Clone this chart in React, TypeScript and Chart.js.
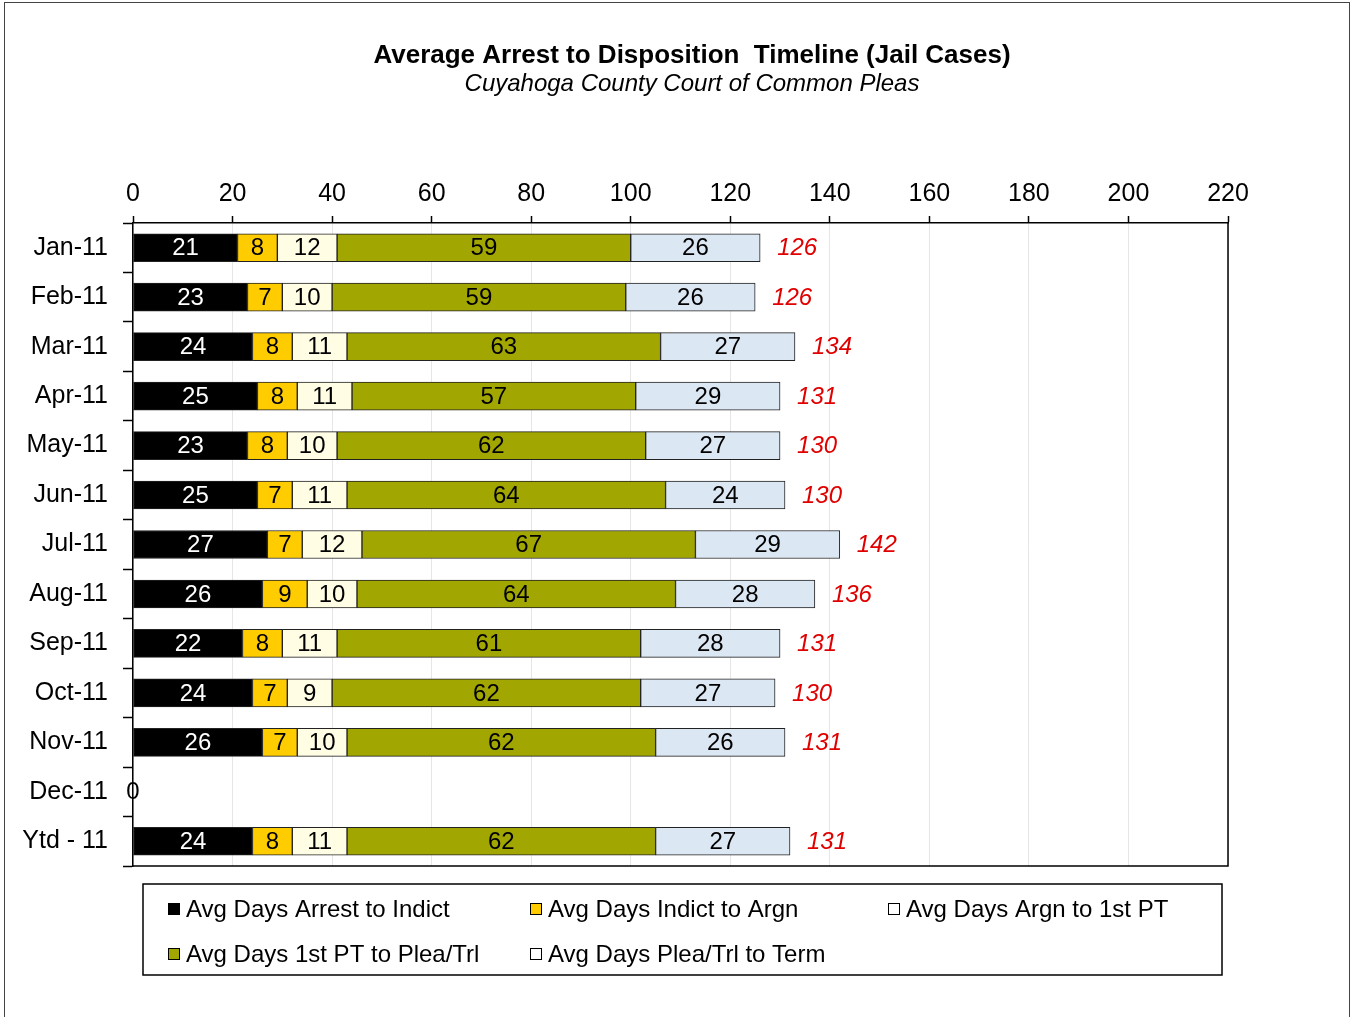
import React, { useEffect, useRef } from "react";
import { Chart, registerables } from "chart.js";

Chart.register(...registerables);

const categories = ["Jan-11", "Feb-11", "Mar-11", "Apr-11", "May-11", "Jun-11", "Jul-11", "Aug-11", "Sep-11", "Oct-11", "Nov-11", "Dec-11", "Ytd - 11"];
const arrestToIndict = [21, 23, 24, 25, 23, 25, 27, 26, 22, 24, 26, 0, 24];
const indictToArgn = [8, 7, 8, 8, 8, 7, 7, 9, 8, 7, 7, 0, 8];
const argnToFirstPT = [12, 10, 11, 11, 10, 11, 12, 10, 11, 9, 10, 0, 11];
const firstPTToPlea = [59, 59, 63, 57, 62, 64, 67, 64, 61, 62, 62, 0, 62];
const pleaToTerm = [26, 26, 27, 29, 27, 24, 29, 28, 28, 27, 26, 0, 27];
const totals = [126, 126, 134, 131, 130, 130, 142, 136, 131, 130, 131, 0, 131];
const xTicks = [0, 20, 40, 60, 80, 100, 120, 140, 160, 180, 200, 220];

const seriesNames = [
  "Avg Days Arrest to Indict",
  "Avg Days Indict to Argn",
  "Avg Days Argn to 1st PT",
  "Avg Days 1st PT to Plea/Trl",
  "Avg Days Plea/Trl to Term",
];
const seriesColors = ["#000000", "#FFCC00", "#FFFDE4", "#A2A600", "#DCE7F4"];
const legendColors = ["#000000", "#FFCC00", "#FFFFFF", "#A2A600", "#FFFFFF"];
const labelColors = ["#FFFFFF", "#000000", "#000000", "#000000", "#000000"];

const FONT = "'Liberation Sans', Arial, sans-serif";

const textPlugin = {
  id: "textPlugin",
  afterDatasetsDraw(chart: any) {
    const ctx = chart.ctx;
    const area = chart.chartArea;
    const xs = chart.scales.x;
    ctx.save();
    // plot border (right and bottom)
    ctx.strokeStyle = "#000";
    ctx.lineWidth = 1.5;
    ctx.beginPath();
    ctx.moveTo(area.left, area.bottom);
    ctx.lineTo(area.right, area.bottom);
    ctx.lineTo(area.right, area.top);
    ctx.stroke();

    // segment labels
    ctx.font = `24px ${FONT}`;
    ctx.textAlign = "center";
    ctx.textBaseline = "middle";
    chart.data.datasets.forEach((ds: any, i: number) => {
      const meta = chart.getDatasetMeta(i);
      meta.data.forEach((bar: any, j: number) => {
        const v = ds.data[j];
        if (!v) return;
        ctx.fillStyle = labelColors[i];
        ctx.fillText(String(v), (bar.x + bar.base) / 2, bar.y + 1);
      });
    });

    // totals
    const lastMeta = chart.getDatasetMeta(chart.data.datasets.length - 1);
    lastMeta.data.forEach((bar: any, j: number) => {
      const t = totals[j];
      if (t === 0) {
        ctx.font = `24px ${FONT}`;
        ctx.fillStyle = "#000";
        ctx.textAlign = "center";
        ctx.fillText("0", xs.getPixelForValue(0), bar.y + 1);
      } else {
        ctx.font = `italic 24px ${FONT}`;
        ctx.fillStyle = "#E00000";
        ctx.textAlign = "left";
        ctx.fillText(String(t), bar.x + 17, bar.y + 1);
      }
    });
    ctx.restore();
  },
  afterDraw(chart: any) {
    const ctx = chart.ctx;
    const area = chart.chartArea;
    ctx.save();
    // titles
    const cx = chart.width / 2 + 15;
    ctx.textAlign = "center";
    ctx.textBaseline = "middle";
    ctx.fillStyle = "#000";
    ctx.font = `bold 26px ${FONT}`;
    ctx.fillText("Average Arrest to Disposition  Timeline (Jail Cases)", cx, 56);
    ctx.font = `italic 24px ${FONT}`;
    ctx.fillText("Cuyahoga County Court of Common Pleas", cx, 84);

    // legend
    const left = area.left + 10;
    const right = area.right - 6;
    const top = area.bottom + 18;
    const bottom = top + 91;
    ctx.strokeStyle = "#000";
    ctx.lineWidth = 1.5;
    ctx.strokeRect(left, top, right - left, bottom - top);
    const cols = [25, 387, 745];
    const rows = [25, 70];
    ctx.font = `24px ${FONT}`;
    ctx.textAlign = "left";
    seriesNames.forEach((name, i) => {
      const col = cols[i % 3];
      const row = rows[Math.floor(i / 3)];
      const x = left + col;
      const y = top + row;
      ctx.fillStyle = legendColors[i];
      ctx.fillRect(x, y - 6, 12, 12);
      ctx.strokeStyle = "#000";
      ctx.lineWidth = 1;
      ctx.strokeRect(x + 0.5, y - 5.5, 11, 11);
      ctx.fillStyle = "#000";
      ctx.fillText(name, x + 18, y + 1);
    });
    ctx.restore();
  },
};

export default function App() {
  const canvasRef = useRef<HTMLCanvasElement | null>(null);

  useEffect(() => {
    if (!canvasRef.current) return;
    const data = [arrestToIndict, indictToArgn, argnToFirstPT, firstPTToPlea, pleaToTerm];
    const chart = new Chart(canvasRef.current, {
      type: "bar",
      data: {
        labels: categories,
        datasets: data.map((d, i) => ({
          label: seriesNames[i],
          data: d,
          backgroundColor: seriesColors[i],
          borderColor: "#222",
          borderWidth: 1,
          borderSkipped: false,
          barThickness: 28,
        })),
      },
      options: {
        indexAxis: "y",
        animation: false,
        responsive: true,
        maintainAspectRatio: false,
        layout: { padding: { top: 180, left: 0, right: 126, bottom: 151 } },
        plugins: {
          legend: { display: false },
          title: { display: false },
          tooltip: { enabled: false },
        },
        scales: {
          x: {
            position: "top",
            stacked: true,
            min: 0,
            max: 220,
            afterBuildTicks(scale: any) {
              scale.ticks = xTicks.map((v) => ({ value: v }));
            },
            afterFit(scale: any) {
              scale.height = 43;
            },
            ticks: {
              color: "#000",
              font: { size: 25, family: FONT },
              padding: 7,
            },
            grid: {
              color: "#E6E6E6",
              tickColor: "#000",
              tickLength: 7,
              lineWidth: 1,
              tickWidth: 1.5,
            },
            border: { display: true, color: "#000", width: 1.5 },
          },
          y: {
            stacked: true,
            afterFit(scale: any) {
              scale.width = 133;
            },
            ticks: {
              color: "#000",
              font: { size: 25, family: FONT },
              padding: 15,
            },
            grid: {
              drawOnChartArea: false,
              offset: true,
              tickColor: "#000",
              tickLength: 10,
              tickWidth: 1.5,
            },
            border: { display: true, color: "#000", width: 1.5 },
          },
        },
      },
      plugins: [textPlugin],
    });
    return () => chart.destroy();
  }, []);

  return (
    <div style={{ position: "fixed", left: 0, top: 0, width: 1354, height: 1017, background: "#fff" }}>
      <div
        style={{
          position: "absolute",
          left: 4,
          top: 2,
          width: 1346,
          height: 1030,
          border: "1.5px solid #444",
          boxSizing: "border-box",
        }}
      />
      <canvas ref={canvasRef} style={{ position: "absolute", left: 0, top: 0, width: 1354, height: 1017 }} />
    </div>
  );
}
